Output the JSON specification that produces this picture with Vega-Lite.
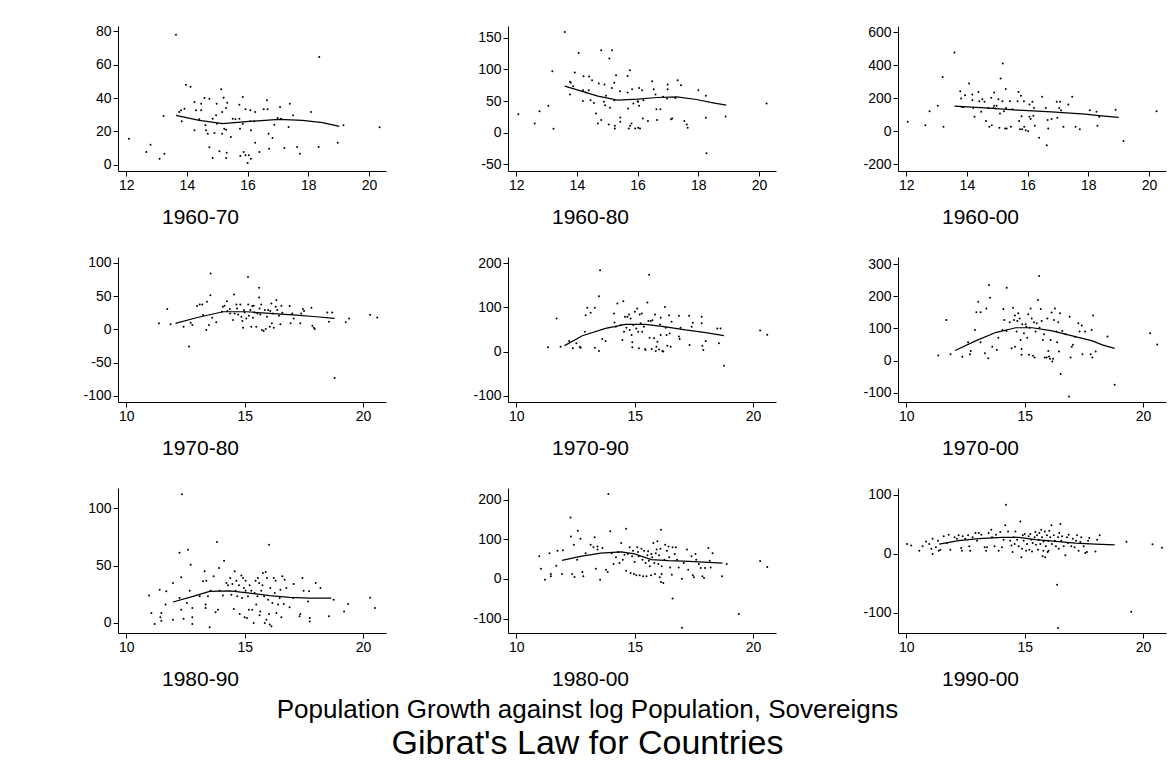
{
"$schema": "https://vega.github.io/schema/vega-lite/v6.json",
"padding": {"left": 82, "top": 24, "right": 5, "bottom": 10},
"config": {
  "font": "Liberation Sans",
  "view": {"stroke": null},
  "axis": {"grid": false, "domainColor": "black", "tickColor": "black", "labelColor": "black", "labelFontSize": 14, "tickSize": 5, "labelPadding": 2, "domainWidth": 1, "tickWidth": 1, "labelFlush": false, "labelOverlap": false, "labelExpr": "toString(datum.value)"},
  "axisX": {"titleX": 82, "titleY": 46, "titleBaseline": "middle", "titleAlign": "center", "titleFontSize": 21, "titleFontWeight": "normal", "titleColor": "black"}
},
"title": {"text": "Population Growth against log Population, Sovereigns", "subtitle": "Gibrat's Law for Countries", "orient": "bottom", "anchor": "middle", "font": "Liberation Sans", "fontSize": 26, "fontWeight": "normal", "color": "black", "subtitleFont": "Liberation Sans", "subtitleFontSize": 34, "subtitleColor": "black", "subtitlePadding": 4, "offset": 8, "dx": -37},
"columns": 3,
"spacing": {"row": 86, "column": 122},
"bounds": "flush",
"datasets": {
"p1": [{"x":13.64,"y":78},{"x":12.09,"y":15.6},{"x":12.66,"y":7.6},{"x":12.8,"y":12},{"x":13.1,"y":3.6},{"x":13.23,"y":29.2},{"x":13.26,"y":6.6},{"x":13.97,"y":48},{"x":14.12,"y":46.8},{"x":13.75,"y":31.6},{"x":13.81,"y":32.6},{"x":13.92,"y":33.6},{"x":13.83,"y":26},{"x":14.25,"y":37.6},{"x":14.25,"y":20.6},{"x":14.3,"y":32.6},{"x":14.47,"y":36.6},{"x":14.47,"y":32.6},{"x":14.58,"y":40},{"x":14.41,"y":27.2},{"x":14.61,"y":23.6},{"x":14.63,"y":20.6},{"x":14.69,"y":18.6},{"x":14.74,"y":39.6},{"x":14.74,"y":10.4},{"x":14.85,"y":27.6},{"x":14.85,"y":4},{"x":14.91,"y":19},{"x":14.96,"y":29.6},{"x":14.98,"y":36.6},{"x":14.99,"y":24.6},{"x":15.07,"y":8},{"x":15.13,"y":45.2},{"x":15.16,"y":31.6},{"x":15.16,"y":18.6},{"x":15.21,"y":40.2},{"x":15.23,"y":21.6},{"x":15.29,"y":4},{"x":15.31,"y":7.2},{"x":15.29,"y":34},{"x":15.33,"y":37.2},{"x":15.29,"y":21},{"x":15.45,"y":16.6},{"x":15.51,"y":27.6},{"x":15.6,"y":27.2},{"x":15.73,"y":36},{"x":15.73,"y":27.6},{"x":15.75,"y":21.6},{"x":15.76,"y":5.2},{"x":15.84,"y":40.6},{"x":15.84,"y":24.6},{"x":15.87,"y":7.6},{"x":15.93,"y":33.2},{"x":15.93,"y":5.6},{"x":16.0,"y":1},{"x":16.04,"y":5.6},{"x":16.09,"y":32.6},{"x":16.11,"y":20.6},{"x":16.11,"y":3.6},{"x":16.09,"y":26},{"x":16.22,"y":26},{"x":16.25,"y":31.6},{"x":16.25,"y":13.2},{"x":16.39,"y":7.6},{"x":16.53,"y":33.2},{"x":16.64,"y":38.6},{"x":16.66,"y":33.2},{"x":16.69,"y":18.6},{"x":16.71,"y":9.6},{"x":16.82,"y":16},{"x":16.88,"y":24},{"x":16.99,"y":28},{"x":17.07,"y":34.6},{"x":17.1,"y":27.6},{"x":17.21,"y":10},{"x":17.35,"y":22.6},{"x":17.39,"y":36.6},{"x":17.5,"y":29.6},{"x":17.63,"y":10.6},{"x":17.72,"y":6.6},{"x":18.09,"y":31.6},{"x":18.34,"y":10.6},{"x":18.36,"y":64.6},{"x":18.97,"y":13.2},{"x":19.16,"y":23.6},{"x":20.35,"y":22.5}],
"l1": [{"x":13.64,"y":29.6},{"x":14.41,"y":26.6},{"x":15.18,"y":24.6},{"x":16.06,"y":26},{"x":17.04,"y":27.2},{"x":17.81,"y":26.6},{"x":18.47,"y":25.2},{"x":19.02,"y":23}],
"p2": [{"x":13.6,"y":159},{"x":12.07,"y":29.4},{"x":12.61,"y":14.7},{"x":12.77,"y":34.1},{"x":13.06,"y":42.5},{"x":13.19,"y":97},{"x":13.23,"y":6.3},{"x":13.77,"y":80.3},{"x":13.8,"y":79},{"x":13.77,"y":60.3},{"x":13.93,"y":95},{"x":13.88,"y":73.5},{"x":14.06,"y":126},{"x":14.2,"y":67},{"x":14.2,"y":50},{"x":14.22,"y":89},{"x":14.29,"y":63.5},{"x":14.4,"y":88.7},{"x":14.39,"y":67},{"x":14.45,"y":51.4},{"x":14.5,"y":83},{"x":14.56,"y":47},{"x":14.63,"y":30.4},{"x":14.69,"y":14.7},{"x":14.72,"y":77.7},{"x":14.8,"y":20},{"x":14.8,"y":130},{"x":14.89,"y":48.8},{"x":14.91,"y":76},{"x":14.93,"y":43.5},{"x":14.96,"y":58.2},{"x":15.05,"y":13},{"x":15.09,"y":39.3},{"x":15.07,"y":117},{"x":15.16,"y":130},{"x":15.15,"y":70.8},{"x":15.23,"y":78.7},{"x":15.23,"y":51.4},{"x":15.25,"y":11},{"x":15.25,"y":6.8},{"x":15.29,"y":90.8},{"x":15.42,"y":65.6},{"x":15.43,"y":24},{"x":15.43,"y":17.3},{"x":15.67,"y":89.7},{"x":15.67,"y":63.5},{"x":15.69,"y":38.3},{"x":15.71,"y":6.8},{"x":15.75,"y":98.6},{"x":15.75,"y":11},{"x":15.8,"y":14.7},{"x":15.82,"y":68.7},{"x":15.86,"y":46},{"x":15.92,"y":6.8},{"x":16.0,"y":49.8},{"x":16.02,"y":48.8},{"x":16.02,"y":7.9},{"x":16.05,"y":70.8},{"x":16.05,"y":42.5},{"x":16.08,"y":6.8},{"x":16.15,"y":67},{"x":16.17,"y":22.6},{"x":16.19,"y":51.4},{"x":16.34,"y":18.4},{"x":16.48,"y":81.3},{"x":16.53,"y":68.7},{"x":16.59,"y":60.3},{"x":16.62,"y":37.2},{"x":16.64,"y":20},{"x":16.75,"y":37.2},{"x":16.84,"y":56.7},{"x":16.99,"y":76},{"x":16.97,"y":54},{"x":16.99,"y":68.7},{"x":17.1,"y":21.5},{"x":17.14,"y":22.6},{"x":17.24,"y":55},{"x":17.32,"y":83},{"x":17.43,"y":75},{"x":17.54,"y":18.4},{"x":17.62,"y":13},{"x":17.65,"y":7.9},{"x":18.0,"y":67},{"x":18.25,"y":58.2},{"x":18.25,"y":23.6},{"x":18.27,"y":-32.5},{"x":18.9,"y":25.7},{"x":20.25,"y":46}],
"l2": [{"x":13.6,"y":73.5},{"x":14.15,"y":65.6},{"x":14.69,"y":57.7},{"x":15.34,"y":51.4},{"x":16.0,"y":53},{"x":16.64,"y":55.6},{"x":17.29,"y":56.7},{"x":17.94,"y":52.5},{"x":18.49,"y":47.2},{"x":18.92,"y":43.5}],
"p3": [{"x":13.59,"y":477},{"x":12.05,"y":57},{"x":12.63,"y":36},{"x":12.77,"y":121},{"x":13.04,"y":154},{"x":13.2,"y":329},{"x":13.23,"y":26},{"x":13.78,"y":242},{"x":13.81,"y":198},{"x":13.83,"y":147},{"x":13.89,"y":147},{"x":13.94,"y":218},{"x":14.07,"y":289},{"x":14.18,"y":222},{"x":14.18,"y":188},{"x":14.21,"y":141},{"x":14.25,"y":87},{"x":14.38,"y":238},{"x":14.41,"y":182},{"x":14.47,"y":117},{"x":14.51,"y":194},{"x":14.58,"y":178},{"x":14.63,"y":61},{"x":14.71,"y":141},{"x":14.74,"y":26},{"x":14.8,"y":202},{"x":14.82,"y":36},{"x":14.87,"y":141},{"x":14.9,"y":234},{"x":14.9,"y":154},{"x":14.93,"y":137},{"x":14.98,"y":154},{"x":15.04,"y":194},{"x":15.07,"y":20},{"x":15.09,"y":107},{"x":15.11,"y":319},{"x":15.17,"y":182},{"x":15.18,"y":410},{"x":15.22,"y":121},{"x":15.26,"y":16},{"x":15.28,"y":255},{"x":15.29,"y":141},{"x":15.31,"y":16},{"x":15.42,"y":182},{"x":15.45,"y":26},{"x":15.5,"y":133},{"x":15.67,"y":182},{"x":15.7,"y":238},{"x":15.72,"y":61},{"x":15.75,"y":12},{"x":15.78,"y":214},{"x":15.8,"y":91},{"x":15.82,"y":12},{"x":15.88,"y":182},{"x":15.89,"y":26},{"x":15.94,"y":6},{"x":16.02,"y":0},{"x":16.06,"y":162},{"x":16.06,"y":87},{"x":16.1,"y":73},{"x":16.16,"y":178},{"x":16.19,"y":93},{"x":16.21,"y":141},{"x":16.24,"y":32},{"x":16.38,"y":-40},{"x":16.48,"y":208},{"x":16.6,"y":141},{"x":16.63,"y":-85},{"x":16.66,"y":67},{"x":16.68,"y":16},{"x":16.79,"y":73},{"x":16.96,"y":178},{"x":16.98,"y":81},{"x":17.04,"y":141},{"x":17.07,"y":178},{"x":17.1,"y":127},{"x":17.18,"y":26},{"x":17.34,"y":162},{"x":17.47,"y":208},{"x":17.58,"y":26},{"x":17.72,"y":12},{"x":18.05,"y":127},{"x":18.27,"y":117},{"x":18.3,"y":32},{"x":18.36,"y":87},{"x":18.9,"y":130},{"x":19.16,"y":-60},{"x":20.25,"y":120}],
"l3": [{"x":13.59,"y":152},{"x":14.6,"y":141},{"x":15.7,"y":127},{"x":16.79,"y":117},{"x":17.89,"y":103},{"x":18.44,"y":93},{"x":19.0,"y":84}],
"p4": [{"x":11.38,"y":9},{"x":11.73,"y":30.5},{"x":11.87,"y":7.5},{"x":12.42,"y":4},{"x":12.65,"y":-26},{"x":12.72,"y":10},{"x":12.79,"y":6.5},{"x":12.99,"y":35},{"x":13.1,"y":37.5},{"x":13.21,"y":37.5},{"x":13.24,"y":21.5},{"x":13.38,"y":-1},{"x":13.41,"y":41.5},{"x":13.49,"y":6.5},{"x":13.55,"y":51.5},{"x":13.56,"y":84},{"x":13.63,"y":17.5},{"x":13.8,"y":10.5},{"x":14.04,"y":26.5},{"x":14.08,"y":34},{"x":14.15,"y":35.5},{"x":14.25,"y":42.5},{"x":14.27,"y":27.5},{"x":14.37,"y":30.5},{"x":14.39,"y":24},{"x":14.51,"y":14},{"x":14.55,"y":52.5},{"x":14.58,"y":24},{"x":14.65,"y":37.5},{"x":14.68,"y":31.5},{"x":14.72,"y":22.5},{"x":14.82,"y":37.5},{"x":14.86,"y":19},{"x":14.9,"y":12.5},{"x":14.93,"y":2.5},{"x":14.97,"y":29},{"x":15.0,"y":25.5},{"x":15.07,"y":16.5},{"x":15.14,"y":79},{"x":15.15,"y":37.5},{"x":15.18,"y":20.5},{"x":15.24,"y":29},{"x":15.28,"y":4},{"x":15.32,"y":35},{"x":15.35,"y":17.5},{"x":15.38,"y":35.5},{"x":15.42,"y":25.5},{"x":15.49,"y":4},{"x":15.54,"y":24},{"x":15.61,"y":62.5},{"x":15.61,"y":48},{"x":15.63,"y":31.5},{"x":15.66,"y":22.5},{"x":15.7,"y":37.5},{"x":15.73,"y":-1},{"x":15.8,"y":-2.5},{"x":15.85,"y":29},{"x":15.89,"y":0.5},{"x":15.94,"y":19},{"x":15.99,"y":29},{"x":16.06,"y":4},{"x":16.08,"y":27.5},{"x":16.13,"y":39},{"x":16.15,"y":9},{"x":16.2,"y":24},{"x":16.23,"y":2.5},{"x":16.31,"y":34},{"x":16.34,"y":44},{"x":16.38,"y":29},{"x":16.45,"y":20.5},{"x":16.51,"y":7.5},{"x":16.55,"y":35.5},{"x":16.59,"y":25},{"x":16.9,"y":35},{"x":16.94,"y":9},{"x":17.01,"y":24},{"x":17.07,"y":16.5},{"x":17.35,"y":9},{"x":17.39,"y":24},{"x":17.46,"y":30.5},{"x":17.51,"y":27.5},{"x":17.82,"y":32.5},{"x":17.86,"y":5.5},{"x":17.92,"y":2.5},{"x":17.96,"y":0.5},{"x":18.49,"y":25.5},{"x":18.56,"y":11.5},{"x":18.7,"y":25.5},{"x":18.8,"y":-73.5},{"x":19.27,"y":10.5},{"x":19.41,"y":16.5},{"x":20.3,"y":22},{"x":20.6,"y":18}],
"l4": [{"x":12.08,"y":9},{"x":12.96,"y":17.5},{"x":14.08,"y":26.5},{"x":15.07,"y":26.5},{"x":16.06,"y":24},{"x":17.18,"y":21.5},{"x":18.03,"y":19},{"x":18.8,"y":16.5}],
"p5": [{"x":11.34,"y":9.75},{"x":11.7,"y":75},{"x":11.87,"y":11},{"x":12.23,"y":24},{"x":12.39,"y":7.5},{"x":12.54,"y":19},{"x":12.68,"y":11},{"x":12.72,"y":9},{"x":12.93,"y":82.5},{"x":13.0,"y":99},{"x":13.14,"y":88},{"x":13.32,"y":99},{"x":12.9,"y":45},{"x":13.32,"y":9},{"x":13.49,"y":1.5},{"x":13.49,"y":125},{"x":13.54,"y":184},{"x":13.63,"y":28.5},{"x":13.77,"y":24},{"x":14.13,"y":86},{"x":14.15,"y":66},{"x":14.2,"y":56},{"x":14.27,"y":109},{"x":14.41,"y":60},{"x":14.48,"y":26},{"x":14.52,"y":114},{"x":14.55,"y":45},{"x":14.59,"y":79},{"x":14.65,"y":54},{"x":14.69,"y":79},{"x":14.76,"y":84},{"x":14.79,"y":49},{"x":14.83,"y":75},{"x":14.87,"y":37.5},{"x":14.9,"y":21},{"x":14.9,"y":10},{"x":14.94,"y":60},{"x":15.01,"y":90},{"x":15.07,"y":52.5},{"x":15.11,"y":97.5},{"x":15.15,"y":45},{"x":15.18,"y":7.5},{"x":15.21,"y":84},{"x":15.25,"y":64},{"x":15.3,"y":86},{"x":15.32,"y":45},{"x":15.39,"y":56},{"x":15.44,"y":6},{"x":15.46,"y":3.75},{"x":15.54,"y":111},{"x":15.58,"y":69},{"x":15.61,"y":174},{"x":15.63,"y":31.5},{"x":15.68,"y":69},{"x":15.72,"y":6},{"x":15.75,"y":71},{"x":15.82,"y":30},{"x":15.86,"y":84},{"x":15.89,"y":1.5},{"x":15.92,"y":11},{"x":15.96,"y":22.5},{"x":16.03,"y":5},{"x":16.07,"y":61.5},{"x":16.1,"y":76.5},{"x":16.1,"y":37.5},{"x":16.17,"y":1.5},{"x":16.21,"y":0},{"x":16.28,"y":101},{"x":16.31,"y":54},{"x":16.35,"y":37.5},{"x":16.38,"y":13.5},{"x":16.45,"y":82.5},{"x":16.48,"y":41},{"x":16.52,"y":11},{"x":16.56,"y":67.5},{"x":16.87,"y":81},{"x":16.87,"y":34},{"x":16.9,"y":28.5},{"x":16.94,"y":54},{"x":17.3,"y":81},{"x":17.32,"y":15},{"x":17.41,"y":56},{"x":17.46,"y":65},{"x":17.83,"y":79},{"x":17.83,"y":64},{"x":17.86,"y":13.5},{"x":17.9,"y":3.75},{"x":18.0,"y":24},{"x":18.49,"y":52.5},{"x":18.56,"y":19},{"x":18.63,"y":52.5},{"x":18.77,"y":-32},{"x":20.3,"y":48},{"x":20.6,"y":38}],
"l5": [{"x":12.04,"y":13.5},{"x":12.79,"y":36},{"x":13.77,"y":52.5},{"x":14.62,"y":61.5},{"x":15.46,"y":61.5},{"x":16.31,"y":56},{"x":17.15,"y":49},{"x":18.0,"y":43},{"x":18.77,"y":36}],
"p6": [{"x":11.35,"y":15.5},{"x":11.69,"y":126},{"x":11.87,"y":19.6},{"x":12.37,"y":11.4},{"x":12.61,"y":57},{"x":12.69,"y":19.6},{"x":12.72,"y":30},{"x":12.9,"y":95},{"x":12.96,"y":150},{"x":13.14,"y":150},{"x":13.04,"y":183},{"x":13.14,"y":57},{"x":13.32,"y":22.7},{"x":13.38,"y":162},{"x":13.46,"y":7.2},{"x":13.49,"y":235},{"x":13.54,"y":195},{"x":13.63,"y":43},{"x":13.82,"y":33},{"x":13.89,"y":71},{"x":14.06,"y":95},{"x":14.1,"y":160},{"x":14.14,"y":126},{"x":14.23,"y":92},{"x":14.24,"y":226},{"x":14.37,"y":119},{"x":14.45,"y":38},{"x":14.51,"y":164},{"x":14.55,"y":126},{"x":14.59,"y":43},{"x":14.59,"y":140},{"x":14.66,"y":90},{"x":14.69,"y":123},{"x":14.73,"y":147},{"x":14.79,"y":131},{"x":14.83,"y":64},{"x":14.87,"y":36},{"x":14.87,"y":17.6},{"x":14.9,"y":113},{"x":14.97,"y":85},{"x":15.04,"y":113},{"x":15.07,"y":105},{"x":15.11,"y":71},{"x":15.15,"y":144},{"x":15.18,"y":17.6},{"x":15.21,"y":102},{"x":15.25,"y":162},{"x":15.3,"y":131},{"x":15.35,"y":14.5},{"x":15.39,"y":119},{"x":15.42,"y":9.3},{"x":15.46,"y":90},{"x":15.51,"y":116},{"x":15.56,"y":188},{"x":15.61,"y":263},{"x":15.63,"y":102},{"x":15.68,"y":160},{"x":15.72,"y":123},{"x":15.77,"y":64},{"x":15.82,"y":82},{"x":15.85,"y":9.3},{"x":15.93,"y":9.3},{"x":15.96,"y":131},{"x":16.0,"y":30},{"x":16.03,"y":12.4},{"x":16.07,"y":5.2},{"x":16.1,"y":64},{"x":16.14,"y":149},{"x":16.17,"y":-3.1},{"x":16.2,"y":5.2},{"x":16.24,"y":126},{"x":16.28,"y":162},{"x":16.34,"y":90},{"x":16.37,"y":57},{"x":16.42,"y":119},{"x":16.45,"y":28},{"x":16.49,"y":147},{"x":16.52,"y":-42},{"x":16.59,"y":92},{"x":16.73,"y":82},{"x":16.87,"y":-112},{"x":16.9,"y":136},{"x":16.94,"y":9.3},{"x":16.99,"y":43},{"x":17.04,"y":49},{"x":17.13,"y":74},{"x":17.27,"y":116},{"x":17.32,"y":90},{"x":17.41,"y":109},{"x":17.44,"y":19.6},{"x":17.55,"y":90},{"x":17.79,"y":19.6},{"x":17.83,"y":95},{"x":17.86,"y":9.3},{"x":17.89,"y":140},{"x":18.0,"y":28},{"x":18.5,"y":75},{"x":18.8,"y":-75},{"x":20.3,"y":85},{"x":20.6,"y":50}],
"l6": [{"x":12.06,"y":31},{"x":12.93,"y":61},{"x":13.77,"y":87},{"x":14.62,"y":102},{"x":15.32,"y":102},{"x":16.17,"y":92},{"x":17.01,"y":76.5},{"x":17.86,"y":61},{"x":18.28,"y":48.6},{"x":18.8,"y":38}],
"p7": [{"x":10.96,"y":24},{"x":11.06,"y":8.7},{"x":11.2,"y":-0.9},{"x":11.41,"y":29},{"x":11.44,"y":4.9},{"x":11.48,"y":8.7},{"x":11.48,"y":2},{"x":11.66,"y":16},{"x":11.69,"y":27.5},{"x":11.97,"y":34.8},{"x":11.97,"y":2.9},{"x":12.25,"y":61},{"x":12.32,"y":39.7},{"x":12.35,"y":112},{"x":12.25,"y":21.7},{"x":12.32,"y":11.6},{"x":12.42,"y":3.8},{"x":12.56,"y":17.4},{"x":12.61,"y":63.8},{"x":12.68,"y":28},{"x":12.72,"y":50.7},{"x":12.79,"y":13},{"x":12.79,"y":-0.9},{"x":12.79,"y":4.9},{"x":13.1,"y":23.2},{"x":13.24,"y":36.2},{"x":13.31,"y":45},{"x":13.35,"y":16},{"x":13.35,"y":13},{"x":13.38,"y":36.8},{"x":13.45,"y":23.2},{"x":13.52,"y":-3.8},{"x":13.56,"y":28},{"x":13.69,"y":40.6},{"x":13.77,"y":9.3},{"x":13.83,"y":70.4},{"x":13.87,"y":11.6},{"x":13.92,"y":47.8},{"x":13.94,"y":28},{"x":14.08,"y":24},{"x":14.13,"y":54.2},{"x":14.23,"y":34.8},{"x":14.3,"y":32.8},{"x":14.39,"y":39.1},{"x":14.44,"y":24.6},{"x":14.48,"y":33.9},{"x":14.54,"y":12.2},{"x":14.58,"y":45},{"x":14.62,"y":28},{"x":14.65,"y":36.8},{"x":14.69,"y":23.2},{"x":14.76,"y":32.8},{"x":14.79,"y":7.8},{"x":14.86,"y":41.4},{"x":14.89,"y":21.7},{"x":14.93,"y":39.1},{"x":14.97,"y":30.4},{"x":15.0,"y":4.9},{"x":15.04,"y":36.8},{"x":15.04,"y":28},{"x":15.1,"y":4.3},{"x":15.14,"y":23.2},{"x":15.18,"y":11.6},{"x":15.21,"y":32.8},{"x":15.28,"y":28},{"x":15.32,"y":11.6},{"x":15.38,"y":0},{"x":15.42,"y":26},{"x":15.46,"y":36.8},{"x":15.49,"y":16},{"x":15.54,"y":23.2},{"x":15.56,"y":39.1},{"x":15.61,"y":34.8},{"x":15.63,"y":6.7},{"x":15.66,"y":10.1},{"x":15.7,"y":28},{"x":15.75,"y":32.8},{"x":15.77,"y":43.5},{"x":15.82,"y":23.2},{"x":15.85,"y":0},{"x":15.89,"y":44.3},{"x":15.92,"y":2.9},{"x":15.94,"y":39.1},{"x":15.99,"y":20.3},{"x":16.03,"y":68},{"x":16.03,"y":7.8},{"x":16.06,"y":-1.4},{"x":16.08,"y":30.4},{"x":16.13,"y":-2.9},{"x":16.17,"y":17.4},{"x":16.23,"y":39.1},{"x":16.27,"y":26},{"x":16.31,"y":36.8},{"x":16.34,"y":8.7},{"x":16.41,"y":16},{"x":16.48,"y":21.7},{"x":16.51,"y":29},{"x":16.55,"y":4.9},{"x":16.59,"y":40.6},{"x":16.65,"y":16.5},{"x":16.69,"y":37.7},{"x":16.76,"y":30.4},{"x":16.9,"y":13.6},{"x":17.04,"y":21.7},{"x":17.07,"y":33.9},{"x":17.32,"y":5.8},{"x":17.35,"y":7.8},{"x":17.44,"y":39.1},{"x":17.49,"y":28},{"x":17.68,"y":18.8},{"x":17.75,"y":1.4},{"x":17.75,"y":4.3},{"x":17.72,"y":27.5},{"x":18.0,"y":34.8},{"x":18.2,"y":30.4},{"x":18.56,"y":5.8},{"x":18.76,"y":20.3},{"x":19.2,"y":10.1},{"x":19.37,"y":16.5},{"x":20.3,"y":22},{"x":20.5,"y":13}],
"l7": [{"x":11.97,"y":18.3},{"x":12.82,"y":23.2},{"x":13.52,"y":27.5},{"x":14.37,"y":28},{"x":15.21,"y":26},{"x":16.06,"y":23.8},{"x":16.9,"y":22.3},{"x":17.75,"y":21.7},{"x":18.66,"y":21.7}],
"p8": [{"x":10.97,"y":57},{"x":11.04,"y":26},{"x":11.21,"y":-1.7},{"x":11.4,"y":65},{"x":11.46,"y":12.6},{"x":11.46,"y":6.7},{"x":11.69,"y":33.5},{"x":11.74,"y":71},{"x":11.93,"y":12.6},{"x":11.97,"y":72},{"x":12.31,"y":107},{"x":12.29,"y":155},{"x":12.36,"y":12.6},{"x":12.43,"y":86},{"x":12.46,"y":5},{"x":12.57,"y":48.6},{"x":12.6,"y":121.5},{"x":12.71,"y":101},{"x":12.79,"y":17.6},{"x":12.83,"y":6.7},{"x":12.93,"y":65},{"x":13.14,"y":86},{"x":13.26,"y":79.6},{"x":13.31,"y":105},{"x":13.36,"y":26},{"x":13.43,"y":82},{"x":13.43,"y":74},{"x":13.54,"y":-1.7},{"x":13.64,"y":78},{"x":13.79,"y":23.5},{"x":13.86,"y":17.6},{"x":13.89,"y":214},{"x":13.97,"y":120},{"x":14.03,"y":65},{"x":14.11,"y":37.7},{"x":14.21,"y":54.5},{"x":14.29,"y":68},{"x":14.36,"y":40},{"x":14.43,"y":90.5},{"x":14.5,"y":48.6},{"x":14.57,"y":61},{"x":14.64,"y":126.5},{"x":14.64,"y":21},{"x":14.71,"y":63},{"x":14.79,"y":79.6},{"x":14.83,"y":15},{"x":14.89,"y":57},{"x":14.93,"y":71},{"x":14.97,"y":12.6},{"x":15.0,"y":42.7},{"x":15.07,"y":9.2},{"x":15.11,"y":79.6},{"x":15.14,"y":68},{"x":15.17,"y":57},{"x":15.21,"y":9.2},{"x":15.29,"y":76},{"x":15.33,"y":48.6},{"x":15.36,"y":6.7},{"x":15.4,"y":71},{"x":15.46,"y":40},{"x":15.5,"y":6.7},{"x":15.54,"y":59.5},{"x":15.57,"y":69.5},{"x":15.6,"y":46},{"x":15.64,"y":31.8},{"x":15.69,"y":9.2},{"x":15.71,"y":63},{"x":15.74,"y":54.5},{"x":15.79,"y":90.5},{"x":15.83,"y":40},{"x":15.86,"y":12.6},{"x":15.89,"y":65},{"x":15.93,"y":74},{"x":15.96,"y":94.7},{"x":16.0,"y":37.7},{"x":16.03,"y":59.5},{"x":16.06,"y":4.2},{"x":16.09,"y":76},{"x":16.11,"y":124},{"x":16.11,"y":-7.5},{"x":16.14,"y":12.6},{"x":16.14,"y":31.8},{"x":16.21,"y":-10},{"x":16.26,"y":48.6},{"x":16.29,"y":86},{"x":16.36,"y":71},{"x":16.43,"y":82},{"x":16.46,"y":54.5},{"x":16.5,"y":29},{"x":16.57,"y":10.9},{"x":16.6,"y":-49.4},{"x":16.6,"y":79.6},{"x":16.69,"y":63},{"x":16.74,"y":79.6},{"x":16.79,"y":48.6},{"x":16.86,"y":29},{"x":17.0,"y":-123},{"x":17.0,"y":0.8},{"x":17.07,"y":40},{"x":17.21,"y":74},{"x":17.26,"y":23.5},{"x":17.4,"y":57},{"x":17.46,"y":9.2},{"x":17.5,"y":4.2},{"x":17.57,"y":63},{"x":17.6,"y":48.6},{"x":17.71,"y":37.7},{"x":17.79,"y":27.6},{"x":17.86,"y":6.7},{"x":17.93,"y":2.5},{"x":17.97,"y":27.6},{"x":18.11,"y":78},{"x":18.17,"y":46},{"x":18.21,"y":29},{"x":18.29,"y":65},{"x":18.69,"y":6.7},{"x":18.89,"y":37.7},{"x":19.4,"y":-88},{"x":20.3,"y":45},{"x":20.6,"y":30}],
"l8": [{"x":11.93,"y":47},{"x":12.71,"y":57},{"x":13.57,"y":65},{"x":14.43,"y":68},{"x":15.0,"y":63},{"x":15.71,"y":48.6},{"x":16.43,"y":46},{"x":17.29,"y":44.4},{"x":18.14,"y":42},{"x":18.71,"y":40}],
"p9": [{"x":10.03,"y":16.3},{"x":10.21,"y":14},{"x":10.55,"y":5},{"x":10.69,"y":12.4},{"x":10.83,"y":20.8},{"x":10.97,"y":16.3},{"x":11.06,"y":8.5},{"x":11.11,"y":25.4},{"x":11.11,"y":-0.6},{"x":11.25,"y":10.7},{"x":11.34,"y":22},{"x":11.37,"y":5},{"x":11.44,"y":6.8},{"x":11.58,"y":29.3},{"x":11.72,"y":18},{"x":11.79,"y":32},{"x":11.86,"y":6.8},{"x":12.04,"y":27.6},{"x":12.14,"y":25.4},{"x":12.21,"y":31},{"x":12.32,"y":9.6},{"x":12.35,"y":5},{"x":12.38,"y":29.3},{"x":12.49,"y":25.4},{"x":12.61,"y":31},{"x":12.66,"y":12.4},{"x":12.7,"y":5},{"x":12.8,"y":27.6},{"x":12.92,"y":35},{"x":12.99,"y":22},{"x":13.06,"y":35},{"x":13.17,"y":32},{"x":13.31,"y":10.7},{"x":13.37,"y":5},{"x":13.41,"y":10.7},{"x":13.48,"y":35},{"x":13.59,"y":40.6},{"x":13.62,"y":27.6},{"x":13.73,"y":12.4},{"x":13.79,"y":32},{"x":13.9,"y":5},{"x":13.97,"y":36.6},{"x":14.04,"y":10.7},{"x":14.11,"y":23.7},{"x":14.18,"y":47.9},{"x":14.21,"y":82.8},{"x":14.3,"y":37.7},{"x":14.39,"y":22},{"x":14.44,"y":14},{"x":14.49,"y":2.8},{"x":14.54,"y":27.6},{"x":14.58,"y":16.3},{"x":14.61,"y":37.7},{"x":14.68,"y":23.7},{"x":14.75,"y":12.4},{"x":14.82,"y":54.6},{"x":14.86,"y":-6.2},{"x":14.89,"y":8.5},{"x":14.92,"y":31},{"x":14.96,"y":22},{"x":15.0,"y":33.2},{"x":15.06,"y":5},{"x":15.1,"y":16.3},{"x":15.17,"y":29.3},{"x":15.2,"y":6.8},{"x":15.24,"y":33.2},{"x":15.28,"y":23.7},{"x":15.31,"y":3.9},{"x":15.34,"y":18},{"x":15.42,"y":27.6},{"x":15.45,"y":36.6},{"x":15.48,"y":15.2},{"x":15.52,"y":31},{"x":15.56,"y":6.8},{"x":15.59,"y":23.7},{"x":15.62,"y":35},{"x":15.66,"y":16.3},{"x":15.7,"y":40.6},{"x":15.73,"y":27.6},{"x":15.76,"y":-4.5},{"x":15.79,"y":5},{"x":15.8,"y":20.8},{"x":15.85,"y":37.7},{"x":15.87,"y":-6.2},{"x":15.9,"y":12.4},{"x":15.94,"y":31},{"x":15.97,"y":2.8},{"x":15.99,"y":22},{"x":16.01,"y":5},{"x":16.04,"y":38.9},{"x":16.08,"y":27.6},{"x":16.13,"y":47.9},{"x":16.15,"y":16.3},{"x":16.23,"y":31},{"x":16.27,"y":22},{"x":16.32,"y":12.4},{"x":16.37,"y":-52.4},{"x":16.41,"y":27.6},{"x":16.44,"y":8.5},{"x":16.46,"y":35},{"x":16.51,"y":50},{"x":16.55,"y":22},{"x":16.58,"y":29.3},{"x":16.65,"y":12.4},{"x":16.72,"y":-2.8},{"x":16.79,"y":27.6},{"x":16.83,"y":18},{"x":16.86,"y":32},{"x":16.97,"y":12.4},{"x":17.03,"y":25.4},{"x":17.11,"y":10.7},{"x":17.17,"y":22},{"x":17.21,"y":31},{"x":17.28,"y":5},{"x":17.35,"y":19.7},{"x":17.39,"y":27.6},{"x":17.49,"y":12.4},{"x":17.56,"y":1},{"x":17.63,"y":2.8},{"x":17.68,"y":22},{"x":17.73,"y":26.5},{"x":17.99,"y":3.9},{"x":18.06,"y":23.7},{"x":18.17,"y":31},{"x":16.41,"y":-125.6},{"x":19.3,"y":20},{"x":19.5,"y":-98},{"x":20.4,"y":16},{"x":20.8,"y":10}],
"l9": [{"x":11.39,"y":16.3},{"x":12.21,"y":22},{"x":13.06,"y":25.4},{"x":14.04,"y":27.6},{"x":14.75,"y":27.6},{"x":15.45,"y":23.7},{"x":16.3,"y":20.8},{"x":17.14,"y":18},{"x":17.99,"y":16.3},{"x":18.8,"y":15}]
},
"concat": [
{"width":268,"height":145,"encoding":{"x":{"field":"x","type":"quantitative","scale":{"domain":[11.73,20.56],"nice":false,"zero":false},"axis":{"values":[12,14,16,18,20],"title":"1960-70"}},"y":{"field":"y","type":"quantitative","scale":{"domain":[-3.8,83.2],"nice":false,"zero":false},"axis":{"values":[0,20,40,60,80],"title":null}}},
 "layer":[{"data":{"name":"p1"},"mark":{"type":"circle","size":4,"color":"black","opacity":1}},{"data":{"name":"l1"},"mark":{"type":"line","color":"black","strokeWidth":1.2}}]},
{"width":268,"height":145,"encoding":{"x":{"field":"x","type":"quantitative","scale":{"domain":[11.73,20.56],"nice":false,"zero":false},"axis":{"values":[12,14,16,18,20],"title":"1960-80"}},"y":{"field":"y","type":"quantitative","scale":{"domain":[-60.3,168.4],"nice":false,"zero":false},"axis":{"values":[-50,0,50,100,150],"title":null}}},
 "layer":[{"data":{"name":"p2"},"mark":{"type":"circle","size":4,"color":"black","opacity":1}},{"data":{"name":"l2"},"mark":{"type":"line","color":"black","strokeWidth":1.2}}]},
{"width":268,"height":145,"encoding":{"x":{"field":"x","type":"quantitative","scale":{"domain":[11.73,20.56],"nice":false,"zero":false},"axis":{"values":[12,14,16,18,20],"title":"1960-00"}},"y":{"field":"y","type":"quantitative","scale":{"domain":[-242,638],"nice":false,"zero":false},"axis":{"values":[-200,0,200,400,600],"title":null}}},
 "layer":[{"data":{"name":"p3"},"mark":{"type":"circle","size":4,"color":"black","opacity":1}},{"data":{"name":"l3"},"mark":{"type":"line","color":"black","strokeWidth":1.2}}]},
{"width":268,"height":145,"encoding":{"x":{"field":"x","type":"quantitative","scale":{"domain":[9.65,20.97],"nice":false,"zero":false},"axis":{"values":[10,15,20],"title":"1970-80"}},"y":{"field":"y","type":"quantitative","scale":{"domain":[-109.5,109],"nice":false,"zero":false},"axis":{"values":[-100,-50,0,50,100],"title":null}}},
 "layer":[{"data":{"name":"p4"},"mark":{"type":"circle","size":4,"color":"black","opacity":1}},{"data":{"name":"l4"},"mark":{"type":"line","color":"black","strokeWidth":1.2}}]},
{"width":268,"height":145,"encoding":{"x":{"field":"x","type":"quantitative","scale":{"domain":[9.65,20.97],"nice":false,"zero":false},"axis":{"values":[10,15,20],"title":"1970-90"}},"y":{"field":"y","type":"quantitative","scale":{"domain":[-114,214],"nice":false,"zero":false},"axis":{"values":[-100,0,100,200],"title":null}}},
 "layer":[{"data":{"name":"p5"},"mark":{"type":"circle","size":4,"color":"black","opacity":1}},{"data":{"name":"l5"},"mark":{"type":"line","color":"black","strokeWidth":1.2}}]},
{"width":268,"height":145,"encoding":{"x":{"field":"x","type":"quantitative","scale":{"domain":[9.65,20.97],"nice":false,"zero":false},"axis":{"values":[10,15,20],"title":"1970-00"}},"y":{"field":"y","type":"quantitative","scale":{"domain":[-129,322],"nice":false,"zero":false},"axis":{"values":[-100,0,100,200,300],"title":null}}},
 "layer":[{"data":{"name":"p6"},"mark":{"type":"circle","size":4,"color":"black","opacity":1}},{"data":{"name":"l6"},"mark":{"type":"line","color":"black","strokeWidth":1.2}}]},
{"width":268,"height":145,"encoding":{"x":{"field":"x","type":"quantitative","scale":{"domain":[9.65,20.97],"nice":false,"zero":false},"axis":{"values":[10,15,20],"title":"1980-90"}},"y":{"field":"y","type":"quantitative","scale":{"domain":[-8.7,117.4],"nice":false,"zero":false},"axis":{"values":[0,50,100],"title":null}}},
 "layer":[{"data":{"name":"p7"},"mark":{"type":"circle","size":4,"color":"black","opacity":1}},{"data":{"name":"l7"},"mark":{"type":"line","color":"black","strokeWidth":1.2}}]},
{"width":268,"height":145,"encoding":{"x":{"field":"x","type":"quantitative","scale":{"domain":[9.65,20.97],"nice":false,"zero":false},"axis":{"values":[10,15,20],"title":"1980-00"}},"y":{"field":"y","type":"quantitative","scale":{"domain":[-136,229],"nice":false,"zero":false},"axis":{"values":[-100,0,100,200],"title":null}}},
 "layer":[{"data":{"name":"p8"},"mark":{"type":"circle","size":4,"color":"black","opacity":1}},{"data":{"name":"l8"},"mark":{"type":"line","color":"black","strokeWidth":1.2}}]},
{"width":268,"height":145,"encoding":{"x":{"field":"x","type":"quantitative","scale":{"domain":[9.65,20.97],"nice":false,"zero":false},"axis":{"values":[10,15,20],"title":"1990-00"}},"y":{"field":"y","type":"quantitative","scale":{"domain":[-134,111],"nice":false,"zero":false},"axis":{"values":[-100,0,100],"title":null}}},
 "layer":[{"data":{"name":"p9"},"mark":{"type":"circle","size":4,"color":"black","opacity":1}},{"data":{"name":"l9"},"mark":{"type":"line","color":"black","strokeWidth":1.2}}]}
]
}
